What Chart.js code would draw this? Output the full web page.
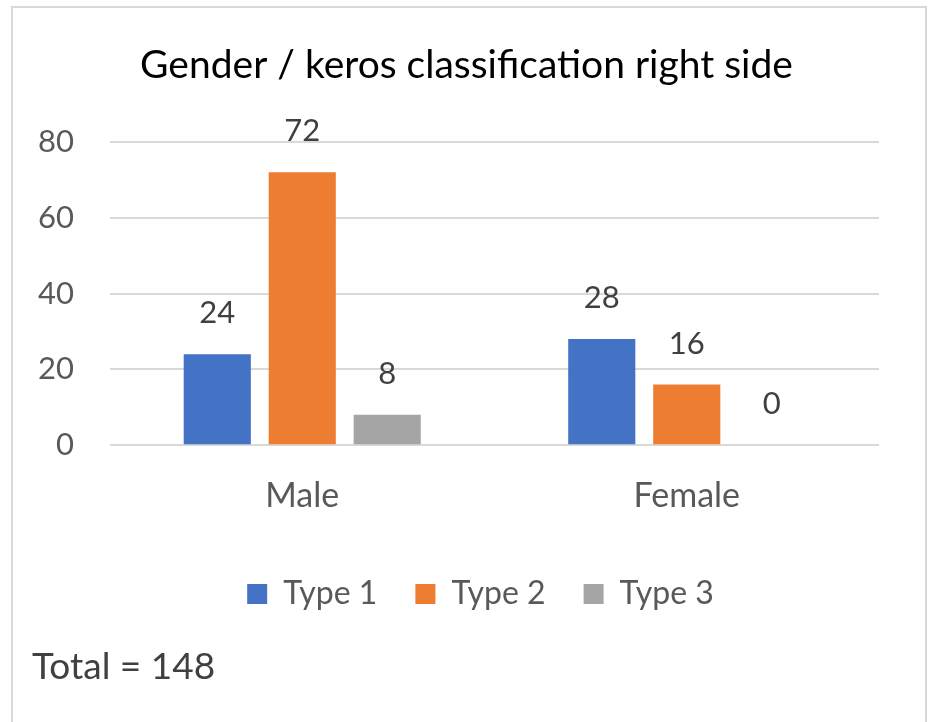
<!DOCTYPE html>
<html>
<head>
<meta charset="utf-8">
<script src="https://cdn.jsdelivr.net/npm/chart.js@4/dist/chart.umd.min.js"></script>
<style>
    html, body { margin: 0; padding: 0; background: #fff; }
    #wrap { position: relative; width: 928px; height: 722px; overflow: hidden; }
    #frame {
        position: absolute; left: 11px; top: 6px; width: 912px; height: 740px;
        border: 2px solid #d9d9d9; border-bottom: none;
    }
    #chartBox { position: absolute; left: 0; top: 0; width: 928px; height: 722px; }
    #total {
        position: absolute; left: 32px; top: 641px;
        font-family: Lato, sans-serif; font-size: 37px; line-height: 48px; color: #404040;
    }
</style>
</head>
<body>
<div id="wrap">
    <div id="frame"></div>
    <div id="chartBox"><canvas id="kerosChart"></canvas></div>
    <div id="total">Total = 148</div>
</div>
<script>
const genders = ["Male", "Female"];
const type1 = [24, 28];
const type2 = [72, 16];
const type3 = [8, 0];
const y_ticks = [0, 20, 40, 60, 80];

const fontFamily = "Lato, sans-serif";

// value labels over every bar
const bar_labels = {
    id: "barLabels",
    afterDatasetsDraw(chart) {
        const ctx = chart.ctx;
        ctx.save();
        ctx.font = `31px ${fontFamily}`;
        ctx.fillStyle = "#404040";
        ctx.textAlign = "center";
        ctx.textBaseline = "middle";
        chart.data.datasets.forEach((ds, i) => {
            chart.getDatasetMeta(i).data.forEach((bar, j) => {
                ctx.fillText(String(ds.data[j]), bar.x, bar.y - 41);
            });
        });
        ctx.restore();
    }
};

// title and legend sit right of the canvas centre in the original
const shift_blocks = {
    id: "shiftBlocks",
    afterLayout(chart) {
        chart.titleBlock.left += 27;
        chart.titleBlock.right += 27;
        chart.legend.left += 41;
        chart.legend.right += 41;
        chart.legend.top -= 6;
        chart.legend.bottom -= 6;
    }
};

new Chart(document.getElementById("kerosChart"), {
    type: "bar",
    data: {
        labels: genders,
        datasets: [
            { label: "Type 1", data: type1, backgroundColor: "#4472C4" },
            { label: "Type 2", data: type2, backgroundColor: "#ED7D31" },
            { label: "Type 3", data: type3, backgroundColor: "#A5A5A5" }
        ]
    },
    options: {
        responsive: true,
        maintainAspectRatio: false,
        animation: false,
        categoryPercentage: 0.663,
        barPercentage: 0.79,
        layout: { padding: { left: 0, right: 49, top: 0, bottom: 96 } },
        scales: {
            x: {
                grid: { display: false, drawTicks: false },
                border: { display: false },
                ticks: { color: "#595959", font: { family: fontFamily, size: 34 }, padding: 30 }
            },
            y: {
                min: 0,
                max: 80,
                afterBuildTicks: scale => { scale.ticks = y_ticks.map(v => ({ value: v })); },
                afterFit: scale => { scale.width = 110; },
                grid: { color: "#d9d9d9", lineWidth: 2, drawTicks: false },
                border: { display: false },
                ticks: { color: "#595959", font: { family: fontFamily, size: 31 }, padding: 36 }
            }
        },
        plugins: {
            title: {
                display: true,
                text: "Gender / keros classification right side",
                color: "#000000",
                font: { family: fontFamily, size: 39, weight: "normal" },
                padding: { top: 42, bottom: 53 }
            },
            legend: {
                position: "bottom",
                labels: {
                    color: "#595959",
                    font: { family: fontFamily, size: 32 },
                    boxWidth: 20,
                    boxHeight: 20,
                    padding: 38
                }
            },
            tooltip: { enabled: false }
        }
    },
    plugins: [bar_labels, shift_blocks]
});
</script>
</body>
</html>
